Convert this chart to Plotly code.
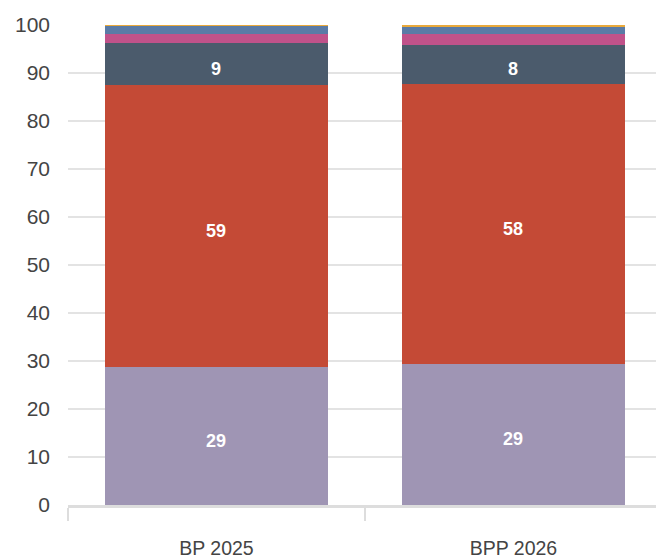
import plotly.graph_objects as go

categories = ["BP 2025", "BPP 2026"]
series_names = ["s1", "s2", "s3", "s4", "s5", "s6"]
purple_vals = [28.8, 29.4]
red_vals = [58.6, 58.3]
slate_vals = [8.9, 8.2]
pink_vals = [1.8, 2.2]
blue_vals = [1.8, 1.5]
orange_vals = [0.1, 0.4]
purple_labels = ["29", "29"]
red_labels = ["59", "58"]
slate_labels = ["9", "8"]

colors = ["#9F95B4", "#C44A36", "#4B5B6C", "#C0528A", "#5A7BA6", "#E9A93B"]
values = [purple_vals, red_vals, slate_vals, pink_vals, blue_vals, orange_vals]
labels = [purple_labels, red_labels, slate_labels, None, None, None]

fig = go.Figure()
base = [0.0 for _ in categories]
annotations = []
for name, vals, col, lab in zip(series_names, values, colors, labels):
    fig.add_trace(go.Bar(
        x=categories, y=vals, name=name, marker=dict(color=col, line=dict(width=0)),
        width=0.75, hoverinfo="skip",
    ))
    if lab:
        for i, c in enumerate(categories):
            annotations.append(dict(
                x=c, y=base[i] + vals[i] / 2, text="<b>%s</b>" % lab[i], showarrow=False,
                yshift=-5, font=dict(color="white", size=18, family="Liberation Sans, Arial, sans-serif"),
            ))
    base = [b + v for b, v in zip(base, vals)]

fig.update_layout(
    barmode="stack",
    width=656, height=558,
    margin=dict(l=68, r=0, t=25, b=53),
    plot_bgcolor="white", paper_bgcolor="white",
    showlegend=False,
    font=dict(family="Liberation Sans, Arial, sans-serif", color="#444"),
    annotations=annotations,
)
fig.update_xaxes(
    range=[-0.5, 1.48], tickson="boundaries", ticks="outside", ticklen=13, tickwidth=2,
    tickcolor="#dddddd", showline=True, linecolor="#dddddd", linewidth=3,
    tickfont=dict(size=19.5, color="#444"), ticklabelstandoff=24, showgrid=False,
)
fig.update_yaxes(
    range=[0, 100], dtick=10, showgrid=True, gridcolor="#e3e3e3", gridwidth=2,
    zeroline=False, tickfont=dict(size=21, color="#444"), ticklabelstandoff=17,
)
fig.write_html("out.html")
